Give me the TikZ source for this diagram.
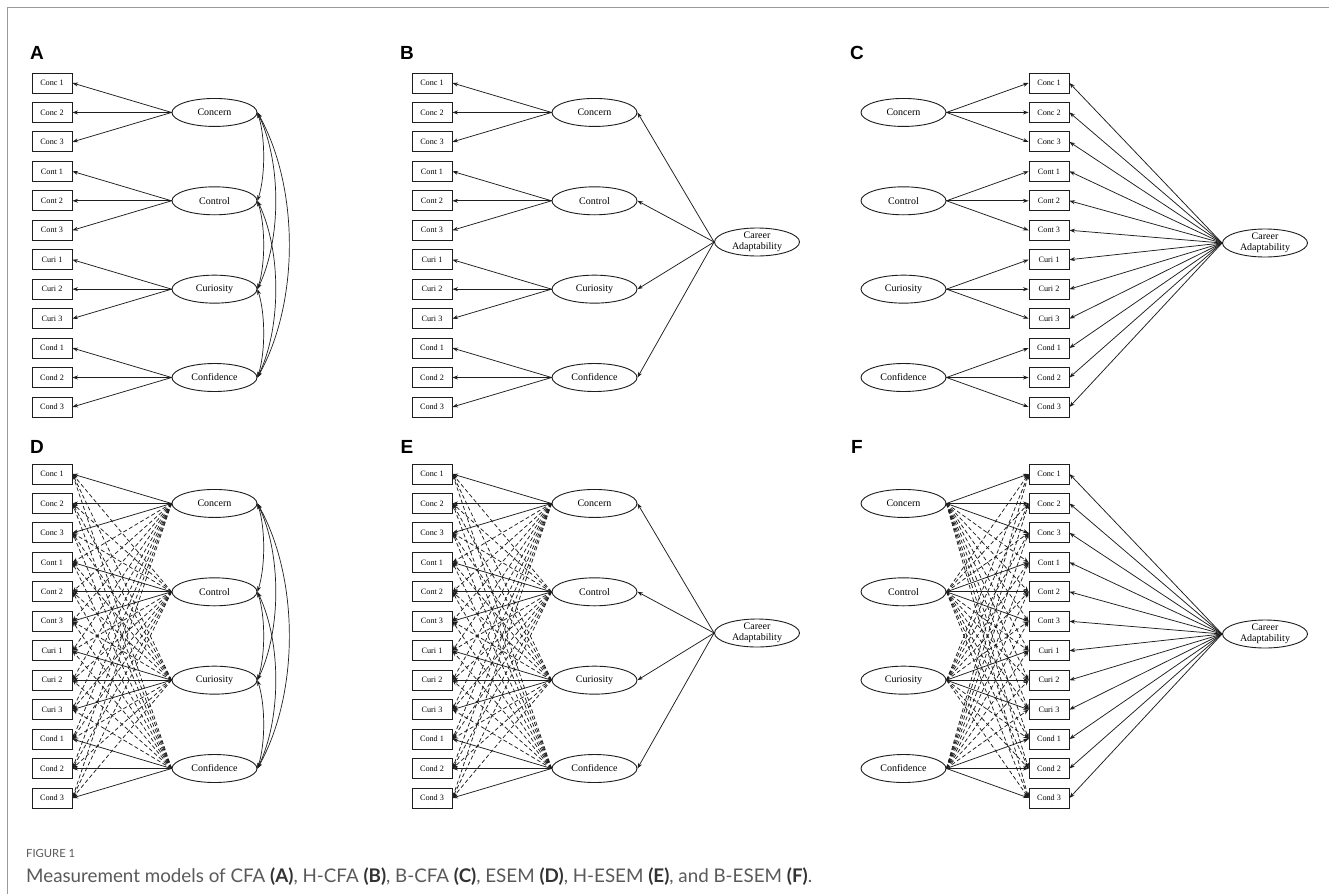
\documentclass[tikz,border=0pt]{standalone}
\usepackage{fontspec}
\setmainfont{Liberation Serif}
\newfontfamily\lab{Liberation Sans}
\newfontfamily\capf{Lato}
\usetikzlibrary{shapes.geometric,arrows.meta}
\definecolor{framec}{HTML}{9A9A9A}
\definecolor{linec}{HTML}{1E1E1E}
\definecolor{capc}{HTML}{5A5A5A}
\definecolor{capb}{HTML}{333333}

% item column: prefix, x
\newcommand\itemcol[2]{%
  \foreach \i/\t in {1/Conc 1,2/Conc 2,3/Conc 3,4/Cont 1,5/Cont 2,6/Cont 3,7/Curi 1,8/Curi 2,9/Curi 3,10/Cond 1,11/Cond 2,12/Cond 3}{
    \node[itembox] (#1-i\i) at (#2,{83+(\i-1)*29.45}) {\t};
  }}
% factor column: prefix, x
\newcommand\faccol[2]{%
  \foreach \f/\t in {1/Concern,2/Control,3/Curiosity,4/Confidence}{
    \node[fac] (#1-f\f) at (#2,{83+(3*\f-2)*29.45}) {\t};
  }}
% loadings, left layout: prefix, cross(1/0)
\newcommand\loadleft[2]{%
  \foreach \f in {1,...,4}{
    \foreach \i in {1,...,12}{
      \pgfmathtruncatemacro\ff{int((\i-1)/3)+1}
      \ifnum\ff=\f
        \draw[ld] (#1-f\f.west) -- (#1-i\i.east);
      \else
        \ifnum#2=1 \draw[cross] (#1-f\f.west) -- (#1-i\i.east); \fi
      \fi
    }}}
\newcommand\loadright[2]{%
  \foreach \f in {1,...,4}{
    \foreach \i in {1,...,12}{
      \pgfmathtruncatemacro\ff{int((\i-1)/3)+1}
      \ifnum\ff=\f
        \draw[ld] (#1-f\f.east) -- (#1-i\i.west);
      \else
        \ifnum#2=1 \draw[cross] (#1-f\f.east) -- (#1-i\i.west); \fi
      \fi
    }}}
\newcommand\covs[1]{%
  \draw[cov] (#1-f1.east) .. controls +(8,25) and +(8,-25) .. (#1-f2.east);
  \draw[cov] (#1-f2.east) .. controls +(8,25) and +(8,-25) .. (#1-f3.east);
  \draw[cov] (#1-f3.east) .. controls +(8,25) and +(8,-25) .. (#1-f4.east);
  \draw[cov] (#1-f1.east) .. controls +(24,50) and +(24,-50) .. (#1-f3.east);
  \draw[cov] (#1-f2.east) .. controls +(24,50) and +(24,-50) .. (#1-f4.east);
  \draw[cov] (#1-f1.east) .. controls +(42,75) and +(42,-75) .. (#1-f4.east);
}

\begin{document}
\begin{tikzpicture}[x=1pt,y=-1pt,
  itembox/.style={draw=linec, line width=0.9pt, minimum width=40pt, minimum height=20pt, inner sep=0pt, font=\fontsize{8.2}{9}\selectfont},
  fac/.style={draw=linec, ellipse, line width=0.9pt, minimum width=85pt, minimum height=28pt, inner sep=0pt, font=\fontsize{10}{11}\selectfont, align=center},
  ld/.style={draw=linec, line width=0.75pt, -{Stealth[length=5.5pt,width=4pt]}},
  cross/.style={ld, dash pattern=on 4pt off 2.5pt},
  cov/.style={draw=linec, line width=0.7pt, {Stealth[length=5.5pt,width=4pt]}-{Stealth[length=5.5pt,width=4pt]}},
  plabel/.style={font=\lab\bfseries\fontsize{19}{19}\selectfont, inner sep=0pt}
]
\useasboundingbox (0,0) rectangle (1329,894);
\fill[white] (0,0) rectangle (1329,894);
\draw[framec, line width=1.5pt] (7.5,894) -- (7.5,7.5) -- (1329,7.5);

% ---------- top row ----------
\node[plabel] (lA) at (37,53) {A};
\node[plabel] (lB) at (407,53) {B};
\node[plabel] (lC) at (857,53) {C};

% A: CFA
\itemcol{A}{52}
\faccol{A}{214.5}
\loadleft{A}{0}
\covs{A}

% B: H-CFA
\itemcol{B}{432}
\faccol{B}{594.5}
\loadleft{B}{0}
\node[fac] (B-ca) at (757,242) {Career\\Adaptability};
\foreach \f in {1,...,4}{\draw[ld] (B-ca.west) -- (B-f\f.east);}

% C: B-CFA
\itemcol{C}{1049}
\faccol{C}{903.5}
\loadright{C}{0}
\node[fac] (C-ca) at (1265,243) {Career\\Adaptability};
\foreach \i in {1,...,12}{\draw[ld] (C-ca.west) -- (C-i\i.east);}

% ---------- bottom row ----------
\begin{scope}[shift={(0,391)}]
\node[plabel] (lD) at (37,56) {D};
\node[plabel] (lE) at (407,56) {E};
\node[plabel] (lF) at (857,56) {F};

% D: ESEM
\itemcol{D}{52}
\faccol{D}{214.5}
\loadleft{D}{1}
\covs{D}

% E: H-ESEM
\itemcol{E}{432}
\faccol{E}{594.5}
\loadleft{E}{1}
\node[fac] (E-ca) at (757,242) {Career\\Adaptability};
\foreach \f in {1,...,4}{\draw[ld] (E-ca.west) -- (E-f\f.east);}

% F: B-ESEM
\itemcol{F}{1049}
\faccol{F}{903.5}
\loadright{F}{1}
\node[fac] (F-ca) at (1265,243) {Career\\Adaptability};
\foreach \i in {1,...,12}{\draw[ld] (F-ca.west) -- (F-i\i.east);}
\end{scope}

% ---------- caption ----------
\node[anchor=west, inner sep=0pt, text=capc, font=\capf] (fig) at (26,853) {\resizebox{49pt}{!}{FIGURE 1}};
\node[anchor=west, inner sep=0pt, text=capc, font=\capf] (cap) at (26,877) {\resizebox{786pt}{!}{Measurement models of CFA \textcolor{capb}{\bfseries(A)}, H-CFA \textcolor{capb}{\bfseries(B)}, B-CFA \textcolor{capb}{\bfseries(C)}, ESEM \textcolor{capb}{\bfseries(D)}, H-ESEM \textcolor{capb}{\bfseries(E)}, and B-ESEM \textcolor{capb}{\bfseries(F)}.}};
\end{tikzpicture}
\end{document}
